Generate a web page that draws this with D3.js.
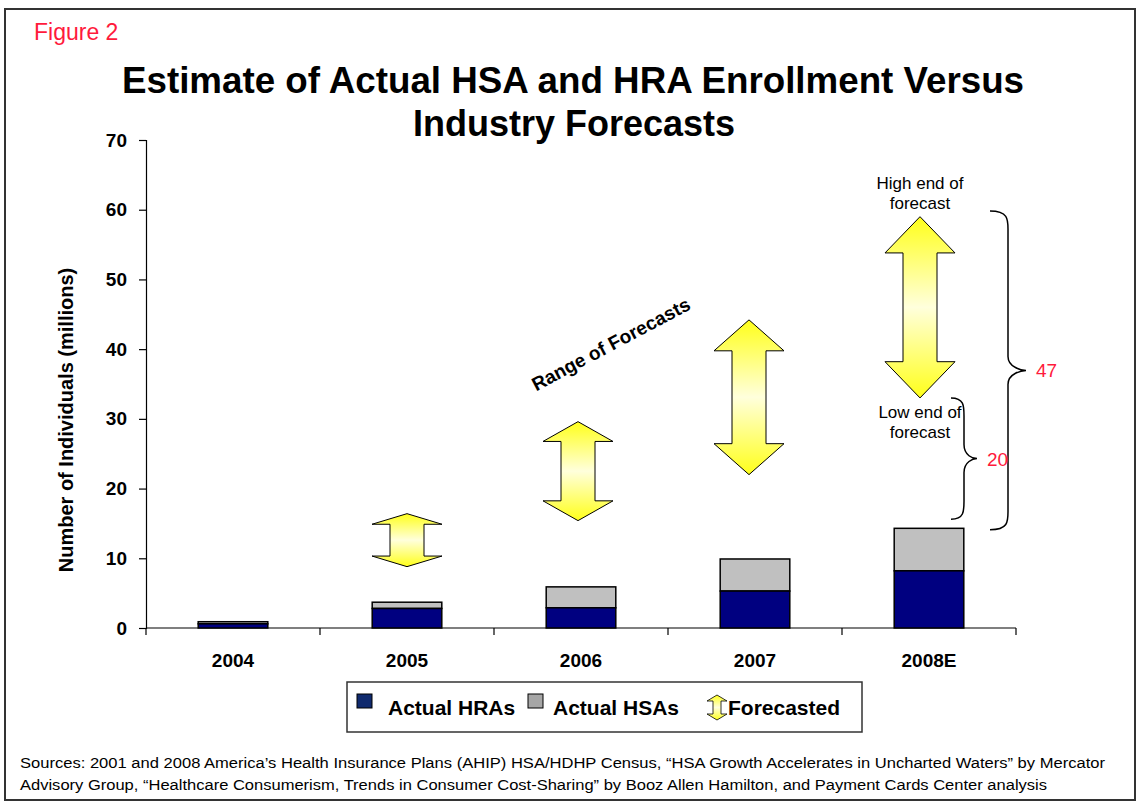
<!DOCTYPE html>
<html>
<head>
<meta charset="utf-8">
<script src="https://cdn.jsdelivr.net/npm/d3@7"></script>
<style>
  body { margin: 0; background: #fff; }
  svg { display: block; font-family: Arial, "Liberation Sans", sans-serif; }
</style>
</head>
<body>
<div id="chart"></div>
<script>
// chart data
var years = ['2004', '2005', '2006', '2007', '2008E'];
var actualHRAs = [0.6, 2.8, 2.9, 5.3, 8.2];
var actualHSAs = [0.3, 0.9, 3.0, 4.6, 6.1];
var forecastLow = [null, 8.8, 15.4, 22.0, 33.0];
var forecastHigh = [null, 16.4, 29.6, 44.2, 59.0];
var yTicks = [0, 10, 20, 30, 40, 50, 60, 70];
var braceTotal = [14.1, 59.8];
var braceLow = [15.6, 33.0];
var braceLabels = ['47', '20'];

var width = 1139, height = 803;

var svg = d3.select('#chart')
  .append('svg')
    .attr('width', width)
    .attr('height', height);

// frame
svg.append('rect')
  .attr('x', 5).attr('y', 9)
  .attr('width', 1130).attr('height', 791)
  .attr('fill', '#fff')
  .attr('stroke', '#333')
  .attr('stroke-width', 2);

var defs = svg.append('defs');
var grad = defs.append('linearGradient')
  .attr('id', 'arrowGrad')
  .attr('x1', 0).attr('y1', 0).attr('x2', 0).attr('y2', 1);
grad.append('stop').attr('offset', '0%').attr('stop-color', '#ffff1a');
grad.append('stop').attr('offset', '50%').attr('stop-color', '#ffffdc');
grad.append('stop').attr('offset', '100%').attr('stop-color', '#ffff1a');

// titles
svg.append('text')
  .attr('x', 34).attr('y', 40)
  .attr('fill', '#ff1a3c')
  .attr('font-size', 23)
  .text('Figure 2');

svg.append('text')
  .attr('x', 573).attr('y', 93)
  .attr('text-anchor', 'middle')
  .attr('font-size', 36).attr('font-weight', 'bold')
  .attr('textLength', 902).attr('lengthAdjust', 'spacingAndGlyphs')
  .text('Estimate of Actual HSA and HRA Enrollment Versus');
svg.append('text')
  .attr('x', 574).attr('y', 136)
  .attr('text-anchor', 'middle')
  .attr('font-size', 36).attr('font-weight', 'bold')
  .text('Industry Forecasts');

// scales
var x = d3.scaleBand()
  .domain(years)
  .range([146, 1016])
  .padding(0);

var y = d3.scaleLinear()
  .domain([0, 70])
  .range([628, 140]);

var barW = x.bandwidth() * 0.4;

// y axis
var yAxis = svg.append('g')
  .attr('transform', 'translate(146,0)')
  .call(d3.axisLeft(y).tickValues(yTicks).tickSize(7).tickFormat(d3.format('d')));
yAxis.select('.domain').attr('stroke', '#000').attr('stroke-width', 1.2);
yAxis.selectAll('.tick line').attr('stroke', '#000').attr('stroke-width', 1.2);
yAxis.selectAll('.tick text')
  .attr('x', -19)
  .attr('font-family', 'Arial, "Liberation Sans", sans-serif')
  .attr('font-size', 19).attr('font-weight', 'bold').attr('fill', '#000');

// x axis line + boundary ticks
svg.append('line')
  .attr('x1', 146).attr('x2', 1016)
  .attr('y1', y(0)).attr('y2', y(0))
  .attr('stroke', '#000').attr('stroke-width', 1.2);
var bounds = years.map(function(d) { return x(d); }).concat([x.range()[1]]);
svg.selectAll('.xtick')
  .data(bounds)
  .enter().append('line')
  .attr('x1', function(d) { return d; })
  .attr('x2', function(d) { return d; })
  .attr('y1', y(0)).attr('y2', y(0) + 7)
  .attr('stroke', '#000').attr('stroke-width', 1.2);
svg.selectAll('.xlabel')
  .data(years)
  .enter().append('text')
  .attr('x', function(d) { return x(d) + x.bandwidth() / 2; })
  .attr('y', 667)
  .attr('text-anchor', 'middle')
  .attr('font-size', 19).attr('font-weight', 'bold')
  .text(function(d) { return d; });

// y axis title
svg.append('text')
  .attr('transform', 'translate(73,420) rotate(-90)')
  .attr('text-anchor', 'middle')
  .attr('font-size', 20).attr('font-weight', 'bold')
  .text('Number of Individuals (millions)');

// stacked bars
var barData = years.map(function(d, i) {
  return { year: d, hra: actualHRAs[i], hsa: actualHSAs[i] };
});
var bars = svg.append('g');
bars.selectAll('.hsa')
  .data(barData)
  .enter().append('rect')
  .attr('x', function(d) { return x(d.year) + (x.bandwidth() - barW) / 2; })
  .attr('y', function(d) { return y(d.hra + d.hsa); })
  .attr('width', barW)
  .attr('height', function(d) { return y(d.hra) - y(d.hra + d.hsa); })
  .attr('fill', '#c0c0c0')
  .attr('stroke', '#000').attr('stroke-width', 1.5);
bars.selectAll('.hra')
  .data(barData)
  .enter().append('rect')
  .attr('x', function(d) { return x(d.year) + (x.bandwidth() - barW) / 2; })
  .attr('y', function(d) { return y(d.hra); })
  .attr('width', barW)
  .attr('height', function(d) { return y(0) - y(d.hra); })
  .attr('fill', '#000080')
  .attr('stroke', '#000').attr('stroke-width', 1.5);

// double arrow path
function arrowPath(cx, top, bot, w, sw, head) {
  var hw = w / 2, hs = sw / 2;
  return 'M' + cx + ',' + top +
    'L' + (cx + hw) + ',' + (top + head) +
    'L' + (cx + hs) + ',' + (top + head) +
    'L' + (cx + hs) + ',' + (bot - head) +
    'L' + (cx + hw) + ',' + (bot - head) +
    'L' + cx + ',' + bot +
    'L' + (cx - hw) + ',' + (bot - head) +
    'L' + (cx - hs) + ',' + (bot - head) +
    'L' + (cx - hs) + ',' + (top + head) +
    'L' + (cx - hw) + ',' + (top + head) + 'Z';
}

var arrowData = years.map(function(d, i) {
  return { year: d, lo: forecastLow[i], hi: forecastHigh[i] };
}).filter(function(d) { return d.lo !== null; });

svg.selectAll('.fc')
  .data(arrowData)
  .enter().append('path')
  .attr('d', function(d, i) {
    var top = y(d.hi), bot = y(d.lo);
    var cx = x(d.year) + x.bandwidth() / 2 - i * 3;
    return arrowPath(cx, top, bot, 70, 34, (bot - top) * 0.2);
  })
  .attr('fill', 'url(#arrowGrad)')
  .attr('stroke', '#000').attr('stroke-width', 1);

// range label
svg.append('text')
  .attr('transform', 'translate(614,350) rotate(-28)')
  .attr('text-anchor', 'middle')
  .attr('font-size', 19).attr('font-weight', 'bold')
  .text('Range of Forecasts');

// high/low labels
var cx08 = x('2008E') + x.bandwidth() / 2 - 9;
var notes = [
  { t: 'High end of', y: 189 },
  { t: 'forecast', y: 209 },
  { t: 'Low end of', y: 418 },
  { t: 'forecast', y: 438 }
];
svg.selectAll('.note')
  .data(notes)
  .enter().append('text')
  .attr('x', cx08).attr('y', function(d) { return d.y; })
  .attr('text-anchor', 'middle').attr('font-size', 17)
  .text(function(d) { return d.t; });

// curly braces
function bracePath(x0, y0, y1, w) {
  var m = (y0 + y1) / 2, q = w / 2;
  return 'M' + x0 + ',' + y0 +
    'C' + (x0 + q) + ',' + y0 + ' ' + (x0 + q) + ',' + (y0 + 8) + ' ' + (x0 + q) + ',' + (y0 + 18) +
    'L' + (x0 + q) + ',' + (m - 14) +
    'C' + (x0 + q) + ',' + (m - 3) + ' ' + (x0 + w - 4) + ',' + m + ' ' + (x0 + w) + ',' + m +
    'C' + (x0 + w - 4) + ',' + m + ' ' + (x0 + q) + ',' + (m + 3) + ' ' + (x0 + q) + ',' + (m + 14) +
    'L' + (x0 + q) + ',' + (y1 - 18) +
    'C' + (x0 + q) + ',' + (y1 - 8) + ' ' + (x0 + q) + ',' + y1 + ' ' + x0 + ',' + y1;
}

var braces = [
  { r: braceTotal, x0: 990, w: 36, label: braceLabels[0] },
  { r: braceLow, x0: 951, w: 26, label: braceLabels[1] }
];
braces.forEach(function(b) {
  var y0 = y(b.r[1]), y1 = y(b.r[0]);
  svg.append('path')
    .attr('d', bracePath(b.x0, y0, y1, b.w))
    .attr('fill', 'none')
    .attr('stroke', '#000').attr('stroke-width', 1.5);
  svg.append('text')
    .attr('x', b.x0 + b.w + 10).attr('y', (y0 + y1) / 2 + 7)
    .attr('fill', '#ff1a3c').attr('font-size', 19)
    .text(b.label);
});

// legend
var lg = svg.append('g');
lg.append('rect')
  .attr('x', 347).attr('y', 682)
  .attr('width', 515).attr('height', 50)
  .attr('fill', '#fff').attr('stroke', '#333').attr('stroke-width', 1.5);
lg.append('rect')
  .attr('x', 357).attr('y', 694).attr('width', 15).attr('height', 14)
  .attr('fill', '#102a6e').attr('stroke', '#000').attr('stroke-width', 1);
lg.append('text')
  .attr('x', 388).attr('y', 715)
  .attr('font-size', 21).attr('font-weight', 'bold')
  .text('Actual HRAs');
lg.append('rect')
  .attr('x', 528).attr('y', 694).attr('width', 15).attr('height', 14)
  .attr('fill', '#a6a6a6').attr('stroke', '#000').attr('stroke-width', 1);
lg.append('text')
  .attr('x', 553).attr('y', 715)
  .attr('font-size', 21).attr('font-weight', 'bold')
  .text('Actual HSAs');
lg.append('path')
  .attr('d', arrowPath(717, 695, 720, 20, 8, 6))
  .attr('fill', 'url(#arrowGrad)')
  .attr('stroke', '#000').attr('stroke-width', 0.8);
lg.append('text')
  .attr('x', 728).attr('y', 715)
  .attr('font-size', 21).attr('font-weight', 'bold')
  .text('Forecasted');

// sources
svg.append('text')
  .attr('x', 20).attr('y', 768)
  .attr('font-size', 14)
  .attr('textLength', 1085).attr('lengthAdjust', 'spacingAndGlyphs')
  .text('Sources: 2001 and 2008 America\u2019s Health Insurance Plans (AHIP) HSA/HDHP Census, \u201cHSA Growth Accelerates in Uncharted Waters\u201d by Mercator');
svg.append('text')
  .attr('x', 20).attr('y', 790)
  .attr('font-size', 14)
  .attr('textLength', 1027).attr('lengthAdjust', 'spacingAndGlyphs')
  .text('Advisory Group, \u201cHealthcare Consumerism, Trends in Consumer Cost-Sharing\u201d by Booz Allen Hamilton, and Payment Cards Center analysis');
</script>
</body>
</html>
